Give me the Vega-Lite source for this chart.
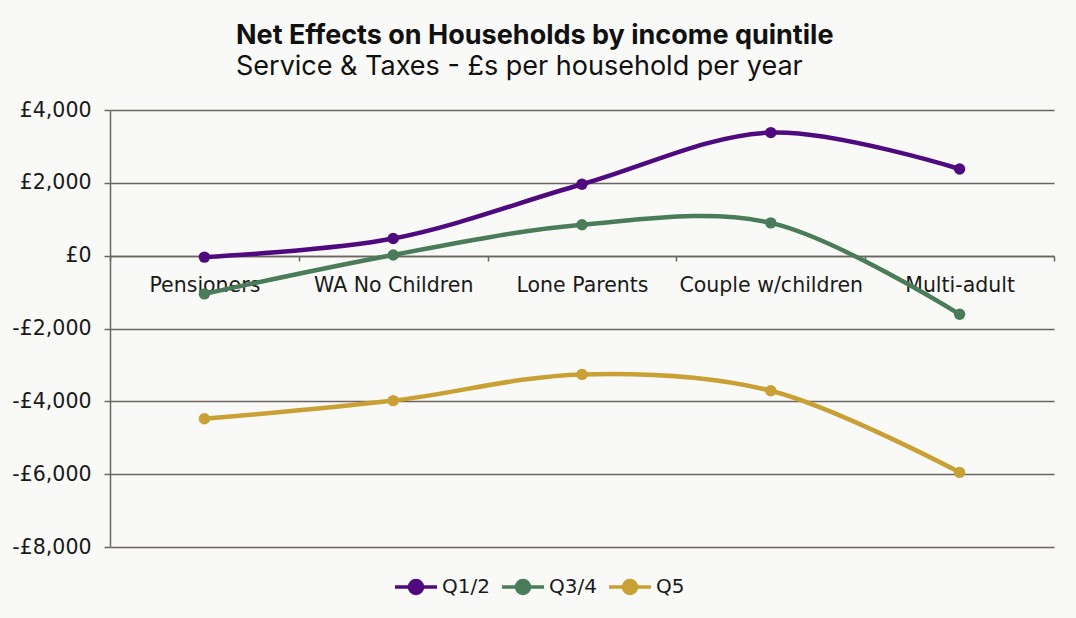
{
  "$schema": "https://vega.github.io/schema/vega-lite/v6.json",
  "autosize": {"type": "none"},
  "padding": {"left": 110, "top": 110, "right": 22, "bottom": 71},
  "width": 944,
  "height": 437,
  "background": "#F9F9F7",
  "title": {
    "text": "Net Effects on Households by income quintile",
    "subtitle": "Service & Taxes - £s per household per year",
    "anchor": "start",
    "frame": "group",
    "dx": 126,
    "font": "Inter",
    "fontSize": 27,
    "fontWeight": "bold",
    "color": "#111111",
    "subtitleFont": "Inter",
    "subtitleFontSize": 27,
    "subtitleColor": "#111111",
    "subtitlePadding": 4,
    "offset": 19
  },
  "data": {
    "values": [
      {"group": "Pensioners", "series": "Q1/2", "value": -40},
      {"group": "WA No Children", "series": "Q1/2", "value": 470},
      {"group": "Lone Parents", "series": "Q1/2", "value": 1960},
      {"group": "Couple w/children", "series": "Q1/2", "value": 3380},
      {"group": "Multi-adult", "series": "Q1/2", "value": 2380},
      {"group": "Pensioners", "series": "Q3/4", "value": -1050},
      {"group": "WA No Children", "series": "Q3/4", "value": 20},
      {"group": "Lone Parents", "series": "Q3/4", "value": 850},
      {"group": "Couple w/children", "series": "Q3/4", "value": 900},
      {"group": "Multi-adult", "series": "Q3/4", "value": -1610},
      {"group": "Pensioners", "series": "Q5", "value": -4480},
      {"group": "WA No Children", "series": "Q5", "value": -3980},
      {"group": "Lone Parents", "series": "Q5", "value": -3260},
      {"group": "Couple w/children", "series": "Q5", "value": -3710},
      {"group": "Multi-adult", "series": "Q5", "value": -5950}
    ]
  },
  "encoding": {
    "x": {
      "field": "group",
      "type": "nominal",
      "sort": null,
      "bandPosition": 0.5,
      "scale": {"type": "band", "paddingInner": 0, "paddingOuter": 0},
      "axis": {
        "title": null,
        "labelAngle": 0,
        "offset": -291,
        "tickBand": "extent",
        "domainColor": "#6B6660",
        "domainWidth": 1.5,
        "tickColor": "#6B6660",
        "tickWidth": 1.5,
        "tickSize": 5,
        "labelPadding": 14,
        "labelLimit": 0,
        "labelFont": "DejaVu Sans",
        "labelFontSize": 20.5,
        "labelColor": "#1a1a1a",
        "grid": false
      }
    },
    "y": {
      "field": "value",
      "type": "quantitative",
      "scale": {"domain": [-8000, 4000], "nice": false},
      "axis": {
        "title": null,
        "values": [-8000, -6000, -4000, -2000, 0, 2000, 4000],
        "labelExpr": "datum.value < 0 ? '-£' + format(-datum.value, ',') : '£' + format(datum.value, ',')",
        "grid": true,
        "gridColor": "#6B6660",
        "gridWidth": 1.5,
        "gridOpacity": 1,
        "domainColor": "#6B6660",
        "domainWidth": 1.5,
        "tickColor": "#6B6660",
        "tickWidth": 1.5,
        "tickSize": 6,
        "labelPadding": 13,
        "labelFont": "DejaVu Sans",
        "labelFontSize": 20.5,
        "labelColor": "#1a1a1a"
      }
    },
    "color": {
      "field": "series",
      "type": "nominal",
      "scale": {"domain": ["Q1/2", "Q3/4", "Q5"], "range": ["#4E0A7E", "#4A7C59", "#C9A033"]},
      "legend": {
        "title": null,
        "orient": "none",
        "legendX": 283,
        "legendY": 454,
        "direction": "horizontal",
        "gridAlign": "none",
        "symbolType": "M-1,0L1,0M-0.31,0A0.31,0.31,0,1,1,0.31,0A0.31,0.31,0,1,1,-0.31,0Z",
        "symbolSize": 1764,
        "symbolStrokeWidth": 3.5,
        "labelFont": "DejaVu Sans",
        "labelFontSize": 20,
        "labelColor": "#1a1a1a",
        "labelOffset": 3,
        "columnPadding": 5
      }
    }
  },
  "layer": [
    {"mark": {"type": "line", "interpolate": "catmull-rom", "strokeWidth": 4.5}},
    {"mark": {"type": "point", "filled": true, "opacity": 1, "size": 130}}
  ],
  "config": {"view": {"stroke": null}}
}
